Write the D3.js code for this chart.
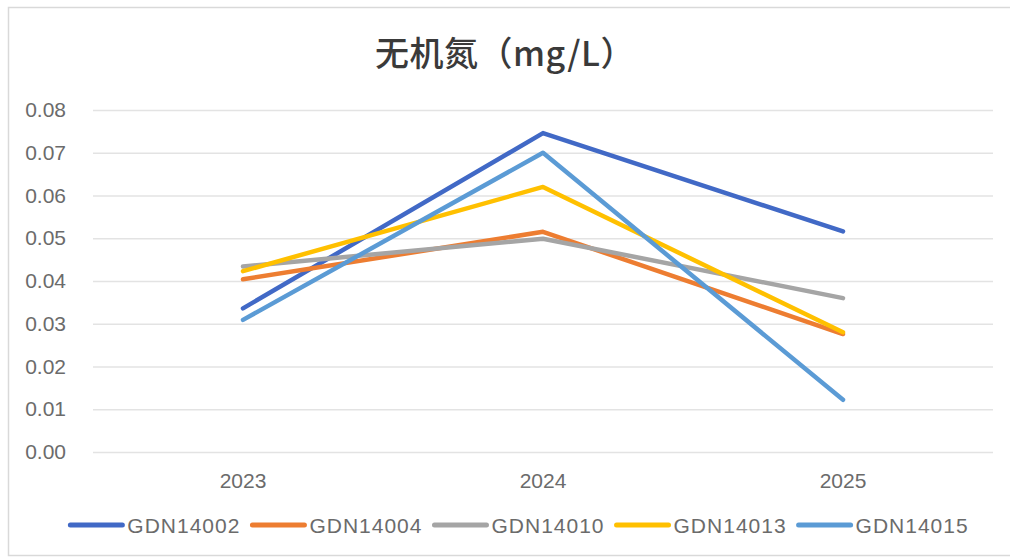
<!DOCTYPE html>
<html>
<head>
<meta charset="utf-8">
<script src="https://cdn.jsdelivr.net/npm/d3@7"></script>
<style>
  html, body { margin: 0; padding: 0; background: #ffffff; }
  svg { display: block; }
</style>
</head>
<body>
<div id="chart"></div>
<script>
// Inorganic nitrogen by station, 2023–2025
const years = ["2023", "2024", "2025"];
const stations = ["GDN14002", "GDN14004", "GDN14010", "GDN14013", "GDN14015"];
const gdn14002 = [0.0336, 0.0746, 0.0516];
const gdn14004 = [0.0404, 0.0515, 0.0276];
const gdn14010 = [0.0434, 0.0499, 0.0360];
const gdn14013 = [0.0423, 0.0620, 0.0280];
const gdn14015 = [0.0309, 0.0700, 0.0122];
const yTicks = [0, 0.01, 0.02, 0.03, 0.04, 0.05, 0.06, 0.07, 0.08];
const colors = ["#4169C6", "#ED7D31", "#A5A5A5", "#FFC000", "#5B9BD5"];

const series = stations.map((name, i) => ({
  name,
  values: [gdn14002, gdn14004, gdn14010, gdn14013, gdn14015][i],
  color: colors[i]
}));

const W = 1010, H = 558;
const plot = { left: 93, right: 993, top: 110, bottom: 452 };
const latin = "'Liberation Sans', Arial, sans-serif";
const cjk = "'Noto Sans CJK SC', 'Noto Sans', sans-serif";

const svg = d3.select("#chart").append("svg")
  .attr("width", W).attr("height", H);

// chart frame
svg.append("rect")
  .attr("x", 8.5).attr("y", 7.5)
  .attr("width", W + 10).attr("height", 548)
  .attr("fill", "#ffffff")
  .attr("stroke", "#D9D9D9").attr("stroke-width", 1.5);

const x = d3.scaleBand().domain(years).range([plot.left, plot.right]).padding(0);
const y = d3.scaleLinear().domain([0, 0.08]).range([plot.bottom, plot.top]);

// horizontal gridlines
const yAxis = d3.axisLeft(y).tickValues(yTicks)
  .tickFormat(d3.format(".2f"))
  .tickSize(-(plot.right - plot.left)).tickPadding(27);
const gy = svg.append("g")
  .attr("transform", `translate(${plot.left},0)`)
  .call(yAxis);
gy.select(".domain").remove();
gy.selectAll(".tick line").attr("stroke", "#E3E3E3").attr("stroke-width", 1.6);
gy.selectAll(".tick text")
  .attr("fill", "#6b6b6b")
  .style("font-family", latin).style("font-size", "21px");

// category labels
const xAxis = d3.axisBottom(x).tickSize(0).tickPadding(21);
const gx = svg.append("g")
  .attr("transform", `translate(0,${plot.bottom})`)
  .call(xAxis);
gx.select(".domain").remove();
gx.selectAll(".tick text")
  .attr("fill", "#6b6b6b")
  .style("font-family", latin).style("font-size", "21px");

// title
svg.append("text")
  .attr("x", 505).attr("y", 66)
  .attr("text-anchor", "middle")
  .attr("fill", "#3a3a3a")
  .style("font-family", cjk).style("font-size", "34px").style("font-weight", 500)
  .style("letter-spacing", "0.5px")
  .text("无机氮（mg/L）");

// series lines
const line = d3.line()
  .x((d, i) => x(years[i]) + x.bandwidth() / 2)
  .y(d => y(d));

svg.append("g").selectAll("path")
  .data(series)
  .join("path")
  .attr("d", d => line(d.values))
  .attr("fill", "none")
  .attr("stroke", d => d.color)
  .attr("stroke-width", 4.5)
  .attr("stroke-linejoin", "round")
  .attr("stroke-linecap", "round");

// legend
const legend = svg.append("g");
const items = legend.selectAll("g").data(series).join("g");
items.append("line")
  .attr("x1", 0).attr("x2", 52).attr("y1", 0).attr("y2", 0)
  .attr("stroke", d => d.color).attr("stroke-width", 5)
  .attr("stroke-linecap", "round");
items.append("text")
  .attr("x", 57).attr("y", 8)
  .attr("fill", "#6b6b6b")
  .style("font-family", latin).style("font-size", "21px")
  .style("letter-spacing", "1px")
  .text(d => d.name);
let offset = 0;
const positions = [];
items.each(function () {
  const w = 57 + d3.select(this).select("text").node().getComputedTextLength();
  positions.push(offset);
  offset += w + 12;
});
const total = offset - 12;
const startX = 519.5 - total / 2;
items.attr("transform", (d, i) => `translate(${startX + positions[i]},525)`);
</script>
</body>
</html>
